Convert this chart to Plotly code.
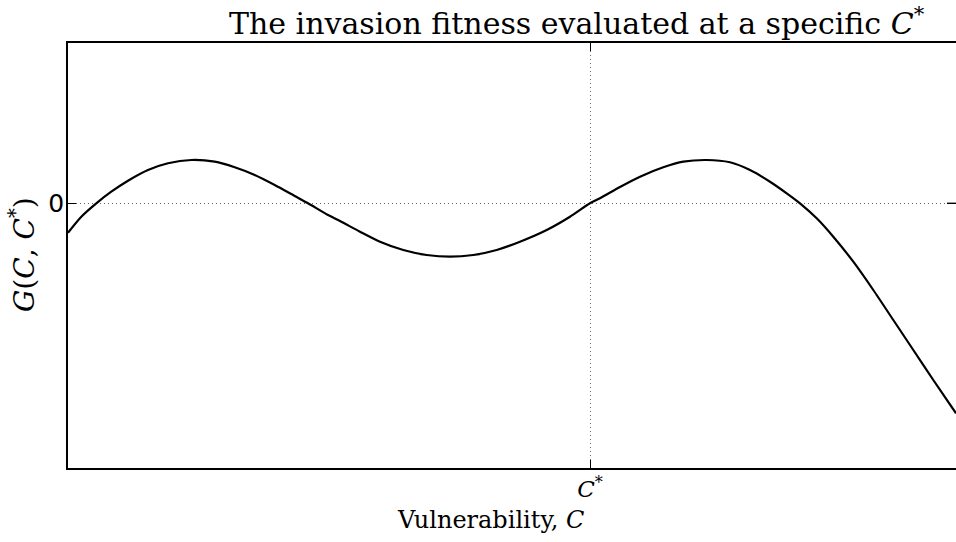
import plotly.graph_objects as go

# Data (arbitrary units; C* at 0, G = 0 at the dotted line)
C = [-5.22, -5.087, -4.937, -4.787, -4.62, -4.42, -4.22, -3.987, -3.753, -3.553, -3.353,
     -3.153, -2.953, -2.82, -2.62, -2.50, -2.30, -2.10, -1.867, -1.633, -1.40, -1.167,
     -0.933, -0.70, -0.433, -0.20, 0.0, 0.10, 0.30, 0.50, 0.733, 0.933, 1.167, 1.40,
     1.60, 1.80, 1.967, 2.10, 2.267, 2.433, 2.633, 2.833, 3.033, 3.233, 3.433, 3.66]
G = [-0.294, -0.134, 0.0, 0.116, 0.226, 0.333, 0.40, 0.433, 0.416, 0.36, 0.283,
     0.183, 0.073, 0.0, -0.117, -0.177, -0.284, -0.384, -0.467, -0.517, -0.534, -0.517,
     -0.467, -0.384, -0.267, -0.134, 0.0, 0.05, 0.163, 0.266, 0.36, 0.416, 0.433, 0.41,
     0.333, 0.216, 0.10, 0.0, -0.15, -0.334, -0.584, -0.867, -1.167, -1.467, -1.767, -2.10]
x_tickvals = [0.0]
x_ticktext = ["<i>C</i><sup>*</sup>"]
y_tickvals = [0.0]
y_ticktext = ["0"]
x_range = [-5.22, 3.66]
y_range = [-2.647, 1.603]

serif = "DejaVu Serif"

fig = go.Figure()
fig.add_trace(go.Scatter(x=C, y=G, mode="lines",
                         line=dict(color="black", width=2.2, shape="spline", smoothing=0.7),
                         showlegend=False, hoverinfo="skip"))

fig.update_layout(
    width=956, height=542,
    margin=dict(l=68, r=0, t=43, b=74),
    paper_bgcolor="white", plot_bgcolor="white",
    xaxis=dict(range=x_range, tickvals=x_tickvals, ticktext=x_ticktext,
               showline=True, linecolor="black", linewidth=1.6, mirror="ticks",
               ticks="inside", ticklen=8, tickwidth=1.4, tickcolor="black",
               showgrid=True, gridcolor="rgba(0,0,0,0.6)", gridwidth=1, griddash="1px,3px",
               zeroline=False, tickfont=dict(family=serif, size=23, color="black")),
    yaxis=dict(range=y_range, tickvals=y_tickvals, ticktext=y_ticktext,
               showline=True, linecolor="black", linewidth=1.6, mirror=False,
               ticks="inside", ticklen=8, tickwidth=1.4, tickcolor="black",
               showgrid=True, gridcolor="rgba(0,0,0,0.6)", gridwidth=1, griddash="1px,3px",
               zeroline=False, ticklabelstandoff=-3,
               tickfont=dict(family="DejaVu Sans", size=25, color="black")),
)

# right-side mirrored tick at y = 0
fig.add_shape(type="line", xref="paper", yref="y", x0=1.0, x1=1.0 - 9 / 888,
              y0=y_tickvals[0], y1=y_tickvals[0], line=dict(color="black", width=1.4))

fig.add_annotation(text="The invasion fitness evaluated at a specific <i>C</i><sup>*</sup>",
                   xref="paper", yref="paper", x=(577 - 68) / 888, y=1 + (43 - 21) / 425,
                   xanchor="center", yanchor="middle", showarrow=False,
                   font=dict(family=serif, size=30, color="black"))
fig.add_annotation(text="Vulnerability, <i>C</i>",
                   xref="paper", yref="paper", x=(490 - 68) / 888, y=-(520 - 468) / 425,
                   xanchor="center", yanchor="middle", showarrow=False,
                   font=dict(family=serif, size=24, color="black"))
fig.add_annotation(text="<i>G</i>(<i>C</i>, <i>C</i><sup>*</sup>)",
                   xref="paper", yref="paper", x=-(68 - 23) / 888, y=(468 - 255) / 425,
                   xanchor="center", yanchor="middle", showarrow=False, textangle=-90,
                   font=dict(family=serif, size=28, color="black"))

fig.write_html("out.html")
